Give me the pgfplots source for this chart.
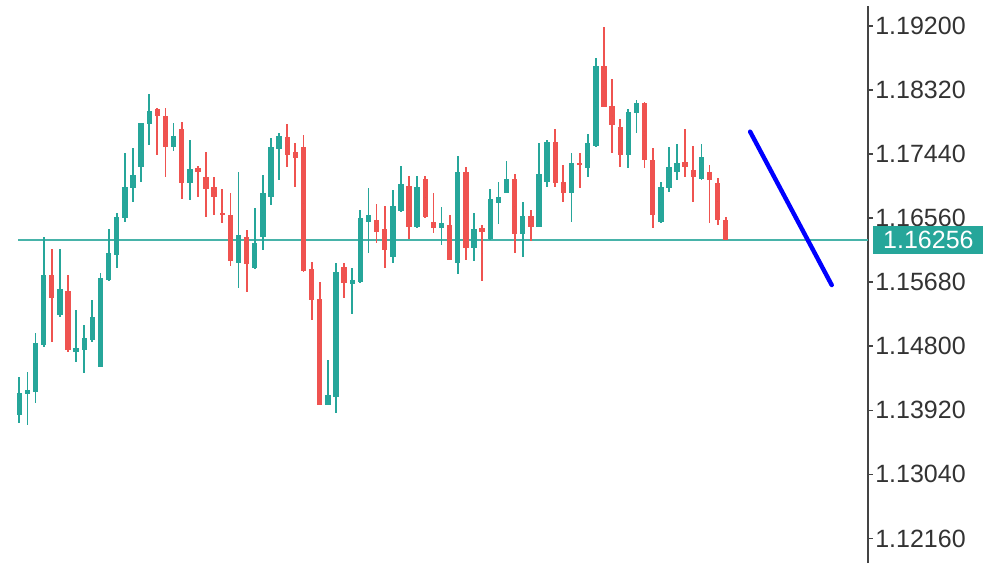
\documentclass[border=0pt]{standalone}
\usepackage{pgfplots}
\pgfplotsset{compat=1.18}
\usepackage{pgfplotstable}
\usepackage{fontspec}
\setmainfont{Liberation Sans}
\definecolor{bull}{HTML}{26A69A}
\definecolor{bear}{HTML}{EF5350}
\definecolor{axgray}{HTML}{444444}
\definecolor{txtgray}{HTML}{333333}

\pgfplotstableread{
x o h l c
1 1.13855 1.14377 1.13745 1.14157
2 1.14144 1.14446 1.13718 1.14199
3 1.14171 1.14982 1.14020 1.14844
4 1.14817 1.16301 1.14789 1.15779
6 1.15229 1.16136 1.15202 1.15586
8 1.14721 1.15298 1.14583 1.14776
9 1.14748 1.15092 1.14432 1.14913
10 1.14886 1.15435 1.14858 1.15202
11 1.14515 1.15806 1.14515 1.15738
12 1.15710 1.16411 1.15696 1.16081
13 1.16054 1.16631 1.15875 1.16576
14 1.16562 1.17455 1.16507 1.16988
15 1.16974 1.17524 1.16782 1.17153
16 1.17263 1.17867 1.17057 1.17867
17 1.17853 1.18266 1.17565 1.18032
20 1.17537 1.17867 1.17483 1.17689
22 1.17043 1.17634 1.16809 1.17235
28 1.15944 1.17194 1.15600 1.16328
30 1.15875 1.16699 1.15861 1.16218
31 1.16301 1.17153 1.16122 1.16905
32 1.16850 1.17661 1.16741 1.17537
33 1.17510 1.17730 1.17084 1.17689
39 1.13993 1.14611 1.13993 1.14130
40 1.14102 1.15944 1.13883 1.15820
42 1.15655 1.15875 1.15243 1.15710
43 1.15683 1.16672 1.15669 1.16562
44 1.16507 1.16974 1.16081 1.16603
47 1.16026 1.16947 1.15944 1.16727
48 1.16658 1.17276 1.16644 1.17029
50 1.16438 1.17139 1.16425 1.16988
53 1.16425 1.16713 1.16191 1.16493
55 1.15944 1.17414 1.15792 1.17194
57 1.16150 1.16631 1.15971 1.16411
59 1.16273 1.16960 1.16260 1.16823
60 1.16768 1.17057 1.16479 1.16850
61 1.16905 1.17345 1.16905 1.17098
63 1.16342 1.16782 1.16026 1.16589
65 1.16438 1.17592 1.16438 1.17166
66 1.17057 1.17634 1.16988 1.17606
69 1.16905 1.17455 1.16507 1.17318
71 1.17249 1.17716 1.17125 1.17592
72 1.17551 1.18760 1.17537 1.18649
76 1.17428 1.18060 1.17249 1.18018
77 1.18005 1.18183 1.17730 1.18142
80 1.16507 1.17057 1.16493 1.16988
81 1.16974 1.17537 1.16919 1.17263
82 1.17194 1.17579 1.17084 1.17318
85 1.17098 1.17579 1.17084 1.17400
}\bulldata

\pgfplotstableread{
x o h l c
5 1.15779 1.16136 1.14858 1.15463
7 1.15559 1.15779 1.14721 1.14748
18 1.18060 1.18073 1.17428 1.17963
19 1.17963 1.18073 1.17125 1.17537
21 1.17785 1.17881 1.16823 1.17043
23 1.17249 1.17276 1.16850 1.17194
24 1.17125 1.17469 1.16576 1.16960
25 1.16988 1.17125 1.16603 1.16850
26 1.16631 1.16960 1.16493 1.16603
27 1.16603 1.16905 1.15902 1.15971
29 1.16301 1.16397 1.15545 1.15930
34 1.17675 1.17853 1.17263 1.17428
35 1.17469 1.17592 1.16988 1.17386
36 1.17537 1.17702 1.15820 1.15834
37 1.15861 1.15957 1.15160 1.15435
38 1.15449 1.15683 1.13993 1.13993
41 1.15889 1.15944 1.15463 1.15669
45 1.16534 1.16754 1.16218 1.16370
46 1.16411 1.16727 1.15875 1.16122
49 1.17002 1.17139 1.16273 1.16438
51 1.17098 1.17139 1.16562 1.16576
52 1.16507 1.16905 1.16356 1.16425
54 1.16466 1.16603 1.15985 1.15985
56 1.17194 1.17263 1.15985 1.16150
58 1.16425 1.16466 1.15696 1.16370
62 1.17098 1.17166 1.16081 1.16342
64 1.16589 1.16672 1.16246 1.16438
67 1.17606 1.17785 1.16988 1.17043
68 1.17057 1.17290 1.16782 1.16905
70 1.17318 1.17455 1.16974 1.17290
73 1.18649 1.19186 1.18087 1.18087
74 1.18101 1.18472 1.17455 1.17840
75 1.17812 1.17922 1.17263 1.17428
78 1.18142 1.18156 1.17249 1.17359
79 1.17359 1.17524 1.16425 1.16603
83 1.17331 1.17785 1.17125 1.17263
84 1.17221 1.17551 1.16782 1.17125
86 1.17194 1.17290 1.16493 1.17084
87 1.17043 1.17112 1.16466 1.16534
88 1.16534 1.16576 1.16256 1.16256
}\beardata

\pgfplotsset{candle/.style={only marks, mark=*, mark size=0pt,
  mark options={draw=none, fill=none},
  error bars/.cd, y dir=both, y explicit, error mark=none}}

\begin{document}
\begin{tikzpicture}
\useasboundingbox[fill=white] (0,0) rectangle (500pt,283.5pt);
\begin{axis}[
  at={(0pt,2pt)}, anchor=south west,
  scale only axis, width=433.85pt, height=278.5pt,
  xmin=-1.377, xmax=105.48, ymin=1.11822, ymax=1.19475,
  axis x line=none,
  axis y line*=right,
  y axis line style={-, draw=axgray, line width=1pt},
  ytick={1.1216,1.1304,1.1392,1.148,1.1568,1.1656,1.1744,1.1832,1.192},
  yticklabels={1.12160,1.13040,1.13920,1.14800,1.15680,1.16560,1.17440,1.18320,1.19200},
  tick align=outside, major tick length=2.6pt,
  ytick style={draw=axgray, line width=0.8pt},
  yticklabel style={font=\fontsize{12.5}{15}\selectfont, text=txtgray, inner sep=1pt, anchor=west},
  clip=false,
]
\addplot[bull!85!white, line width=0.8pt, forget plot] coordinates {(0.84,1.16256) (105.48,1.16256)};
% wicks
\addplot[candle, error bar style={draw=bull, line width=0.9pt}]
  table[x=x, y expr={(\thisrow{h}+\thisrow{l})/2}, y error expr={(\thisrow{h}-\thisrow{l})/2}] {\bulldata};
\addplot[candle, error bar style={draw=bear, line width=0.9pt}]
  table[x=x, y expr={(\thisrow{h}+\thisrow{l})/2}, y error expr={(\thisrow{h}-\thisrow{l})/2}] {\beardata};
% bodies
\addplot[candle, error bar style={draw=bull, line width=2.7pt}]
  table[x=x, y expr={(\thisrow{o}+\thisrow{c})/2}, y error expr={abs(\thisrow{c}-\thisrow{o})/2}] {\bulldata};
\addplot[candle, error bar style={draw=bear, line width=2.7pt}]
  table[x=x, y expr={(\thisrow{o}+\thisrow{c})/2}, y error expr={abs(\thisrow{o}-\thisrow{c})/2}] {\beardata};
% blue trend line
\addplot[draw=blue, line width=2.2pt, line cap=round] coordinates {(91.0,1.17748) (101.05,1.15641)};
\node[fill=bull, text=white, font=\fontsize{12.5}{15}\selectfont, inner sep=0pt,
  minimum width=55pt, minimum height=14pt, anchor=west]
  at ([xshift=2.65pt]axis cs:105.48,1.16256) {1.16256};
\end{axis}
\end{tikzpicture}
\end{document}
